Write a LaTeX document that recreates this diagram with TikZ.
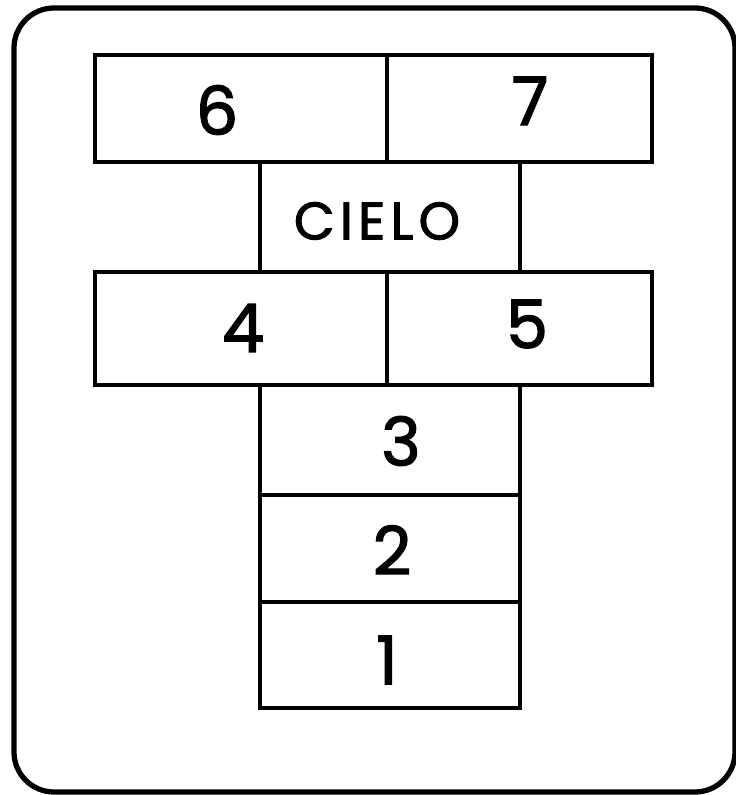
\documentclass[tikz,border=0pt]{standalone}
\usepackage{fontspec}
\setmainfont{Poppins}
\newfontfamily\handfont[FakeBold=2]{Poppins}
\begin{document}
\begin{tikzpicture}[x=0.01cm,y=-0.01cm,
  frame/.style={line width=1.5pt, rounded corners=0.4cm},
  cell/.style={line width=1.2pt, line join=miter},
  digit/.style={inner sep=0pt, font=\handfont\fontsize{19}{21}\selectfont},
  word/.style={inner sep=0pt, font=\handfont\fontsize{15}{17}\selectfont}]
\useasboundingbox (0,0) rectangle (735,795);
% outer frame
\draw[frame] (14,8) rectangle (735,792);
% cells
\draw[cell] (95,55) rectangle (387,162);
\draw[cell] (387,55) rectangle (652,162);
\draw[cell] (260,162) rectangle (520,272);
\draw[cell] (95,272) rectangle (387,385);
\draw[cell] (387,272) rectangle (652,385);
\draw[cell] (260,385) rectangle (520,495);
\draw[cell] (260,495) rectangle (520,602);
\draw[cell] (260,602) rectangle (520,708);
% labels
\node[digit] (l6) at (217,110) {6};
\node[digit] (l7) at (530,101) {7};
\node[word] (lc) at (377,221) {C\kern1.5pt I\kern1.5pt E\kern1.5pt L\kern1.5pt O};
\node[digit] (l4) at (243,328) {4};
\node[digit] (l5) at (527,324) {5};
\node[digit] (l3) at (401,441) {3};
\node[digit] (l2) at (392,550) {2};
\node[digit] (l1) at (387,660) {1};
\end{tikzpicture}
\end{document}
